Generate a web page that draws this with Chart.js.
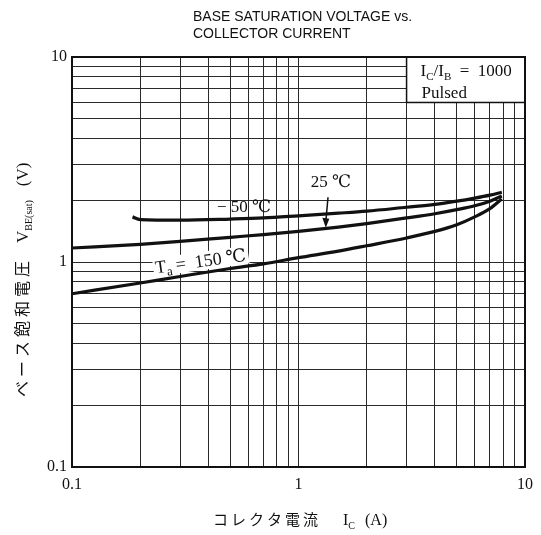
<!DOCTYPE html>
<html>
<head>
<meta charset="utf-8">
<title>Base saturation voltage vs. collector current</title>
<script src="https://cdn.jsdelivr.net/npm/chart.js@4.4.1/dist/chart.umd.min.js"></script>
<style>
    html, body { margin: 0; padding: 0; background: #fff; }
    #wrap { width: 541px; height: 535px; position: relative; }
</style>
</head>
<body>
<div id="wrap"><canvas id="vbeChart"></canvas></div>
<script>
// grid lines (log decades with 2..9 subdivisions) and the labelled ticks
const gridValues = [0.1, 0.2, 0.3, 0.4, 0.5, 0.6, 0.7, 0.8, 0.9,
                    1, 2, 3, 4, 5, 6, 7, 8, 9, 10];
const tickLabels = ['0.1', '1', '10'];

// Ta = -50 C
const currentM50 = [0.185, 0.2, 0.3, 0.5, 0.7, 1, 1.5, 2, 3, 4, 5, 6, 7, 7.9];
const vbeM50     = [1.66, 1.61, 1.60, 1.62, 1.64, 1.68, 1.73, 1.77, 1.85, 1.91, 1.98, 2.05, 2.12, 2.19];
// Ta = 25 C
const current25  = [0.1, 0.2, 0.3, 0.5, 0.7, 1, 1.5, 2, 3, 4, 5, 6, 7, 7.9];
const vbe25      = [1.17, 1.22, 1.26, 1.32, 1.36, 1.41, 1.48, 1.54, 1.64, 1.72, 1.80, 1.88, 1.98, 2.10];
// Ta = 150 C
const current150 = [0.1, 0.2, 0.3, 0.5, 0.7, 1, 1.5, 2, 3, 4, 5, 6, 7, 7.9];
const vbe150     = [0.70, 0.79, 0.85, 0.93, 0.98, 1.05, 1.13, 1.20, 1.31, 1.41, 1.52, 1.66, 1.82, 2.03];

const SERIF = '"Liberation Serif", "DejaVu Serif", serif';
const JP = '"Noto Sans CJK JP", sans-serif';
const INK = '#111';

function toPoints(xs, ys) {
    return xs.map((x, i) => ({ x: x, y: ys[i] }));
}

// draws a row of text pieces (used for subscripts)
function drawRuns(ctx, runs, x, y) {
    runs.forEach(r => {
        ctx.font = r.font;
        if (r.spacing) {
            for (const ch of r.text) {
                ctx.fillText(ch, x, y + (r.dy || 0));
                x += ctx.measureText(ch).width + r.spacing;
            }
        } else {
            ctx.fillText(r.text, x, y + (r.dy || 0));
            x += ctx.measureText(r.text).width;
        }
        x += r.gap || 0;
    });
}

const decorations = {
    id: 'decorations',
    beforeDatasetsDraw(chart) {
        const ctx = chart.ctx;
        const xs = chart.scales.x, ys = chart.scales.y;
        // condition box in the upper right corner
        const l = xs.getPixelForValue(3), r = xs.getPixelForValue(10);
        const t = ys.getPixelForValue(10), b = ys.getPixelForValue(6);
        ctx.save();
        ctx.fillStyle = '#fff';
        ctx.fillRect(l, t, r - l, b - t);
        ctx.strokeStyle = INK;
        ctx.lineWidth = 1.5;
        ctx.strokeRect(l, t, r - l, b - t);
        ctx.fillStyle = INK;
        ctx.textBaseline = 'alphabetic';
        drawRuns(ctx, [
            { text: 'I', font: '17px ' + SERIF },
            { text: 'C', font: '11px ' + SERIF, dy: 4 },
            { text: '/I', font: '17px ' + SERIF },
            { text: 'B', font: '11px ' + SERIF, dy: 4 },
            { text: '  =  1000', font: '17px ' + SERIF }
        ], l + 14, t + 19);
        drawRuns(ctx, [{ text: 'Pulsed', font: '17px ' + SERIF }], l + 15, t + 41);
        ctx.restore();
    },
    afterDraw(chart) {
        const ctx = chart.ctx;
        const a = chart.chartArea;
        const xs = chart.scales.x, ys = chart.scales.y;
        ctx.save();
        // frame
        ctx.strokeStyle = INK;
        ctx.lineWidth = 2;
        ctx.strokeRect(a.left, a.top, a.right - a.left, a.bottom - a.top);

        ctx.fillStyle = INK;
        ctx.textBaseline = 'alphabetic';

        // title
        ctx.font = '14px "Liberation Sans", Arial, sans-serif';
        ctx.fillText('BASE SATURATION VOLTAGE vs.', 193, 21);
        ctx.fillText('COLLECTOR CURRENT', 193, 38);

        // curve labels
        ctx.font = '17px ' + SERIF;
        ctx.textAlign = 'center';
        ctx.fillText('\u2212 50 \u2103', xs.getPixelForValue(0.575), ys.getPixelForValue(1.9) + 7);
        ctx.fillText('25 \u2103', xs.getPixelForValue(1.39), ys.getPixelForValue(2.5) + 7);
        ctx.textAlign = 'left';

        // arrow to the 25 C curve
        const ax = xs.getPixelForValue(1.35), ay = ys.getPixelForValue(2.07);
        const bx = xs.getPixelForValue(1.32), by = ys.getPixelForValue(1.47);
        ctx.strokeStyle = INK;
        ctx.lineWidth = 1.5;
        ctx.beginPath();
        ctx.moveTo(ax, ay);
        ctx.lineTo(bx, by - 6);
        ctx.stroke();
        ctx.beginPath();
        ctx.moveTo(bx, by);
        ctx.lineTo(bx - 3.5, by - 10);
        ctx.lineTo(bx + 3.5, by - 9);
        ctx.closePath();
        ctx.fill();

        // Ta = 150 C, tilted along the curve
        ctx.save();
        ctx.translate(xs.getPixelForValue(0.235), ys.getPixelForValue(0.88));
        ctx.rotate(-8 * Math.PI / 180);
        ctx.fillStyle = '#fff';
        ctx.fillRect(-2, -15, 96, 18);
        ctx.fillStyle = INK;
        drawRuns(ctx, [
            { text: 'T', font: '18px ' + SERIF },
            { text: 'a', font: '13px ' + SERIF, dy: 4, gap: 4 },
            { text: '=  150 \u2103', font: '18px ' + SERIF }
        ], 0, 0);
        ctx.restore();

        // x axis title
        drawRuns(ctx, [
            { text: 'コレクタ電流', font: '15px ' + JP, spacing: 3, gap: 22 },
            { text: 'I', font: '16px ' + SERIF },
            { text: 'C', font: '10px ' + SERIF, dy: 4, gap: 10 },
            { text: '(A)', font: '16px ' + SERIF }
        ], 213, 525);

        // y axis title, read bottom to top
        ctx.translate(28, 397);
        ctx.rotate(-Math.PI / 2);
        drawRuns(ctx, [
            { text: 'ベース飽和電圧', font: '16px ' + JP, spacing: 4, gap: 14 },
            { text: 'V', font: '17px ' + SERIF },
            { text: 'BE(sat)', font: '10px ' + SERIF, dy: 4, gap: 14 },
            { text: '(V)', font: '17px ' + SERIF }
        ], 0, 0);
        ctx.restore();
    }
};

const lineStyle = {
    borderColor: INK,
    borderWidth: 3.2,
    pointRadius: 0,
    fill: false,
    cubicInterpolationMode: 'monotone'
};

const logAxis = (axis) => ({
    type: 'logarithmic',
    min: 0.1,
    max: 10,
    afterBuildTicks: scale => {
        scale.ticks = gridValues.map(v => ({ value: v }));
    },
    afterFit: scale => {
        if (axis === 'x') scale.height = 30; else scale.width = 72;
    },
    ticks: {
        autoSkip: false,
        maxRotation: 0,
        padding: axis === 'x' ? 8 : 5,
        color: INK,
        font: { family: SERIF, size: 16 },
        callback: value => {
            const s = String(value);
            return tickLabels.includes(s) ? s : '';
        }
    },
    grid: { color: '#2a2a2a', lineWidth: 1, drawTicks: false },
    border: { color: INK, width: 2 }
});

new Chart(document.getElementById('vbeChart'), {
    type: 'line',
    data: {
        datasets: [
            Object.assign({ label: '-50 \u2103', data: toPoints(currentM50, vbeM50) }, lineStyle),
            Object.assign({ label: '25 \u2103', data: toPoints(current25, vbe25) }, lineStyle),
            Object.assign({ label: '150 \u2103', data: toPoints(current150, vbe150) }, lineStyle)
        ]
    },
    options: {
        responsive: true,
        maintainAspectRatio: false,
        animation: false,
        layout: { padding: { left: 0, right: 14, top: 57, bottom: 38 } },
        plugins: {
            legend: { display: false },
            tooltip: { enabled: false }
        },
        scales: {
            x: logAxis('x'),
            y: logAxis('y')
        }
    },
    plugins: [decorations]
});
</script>
</body>
</html>
